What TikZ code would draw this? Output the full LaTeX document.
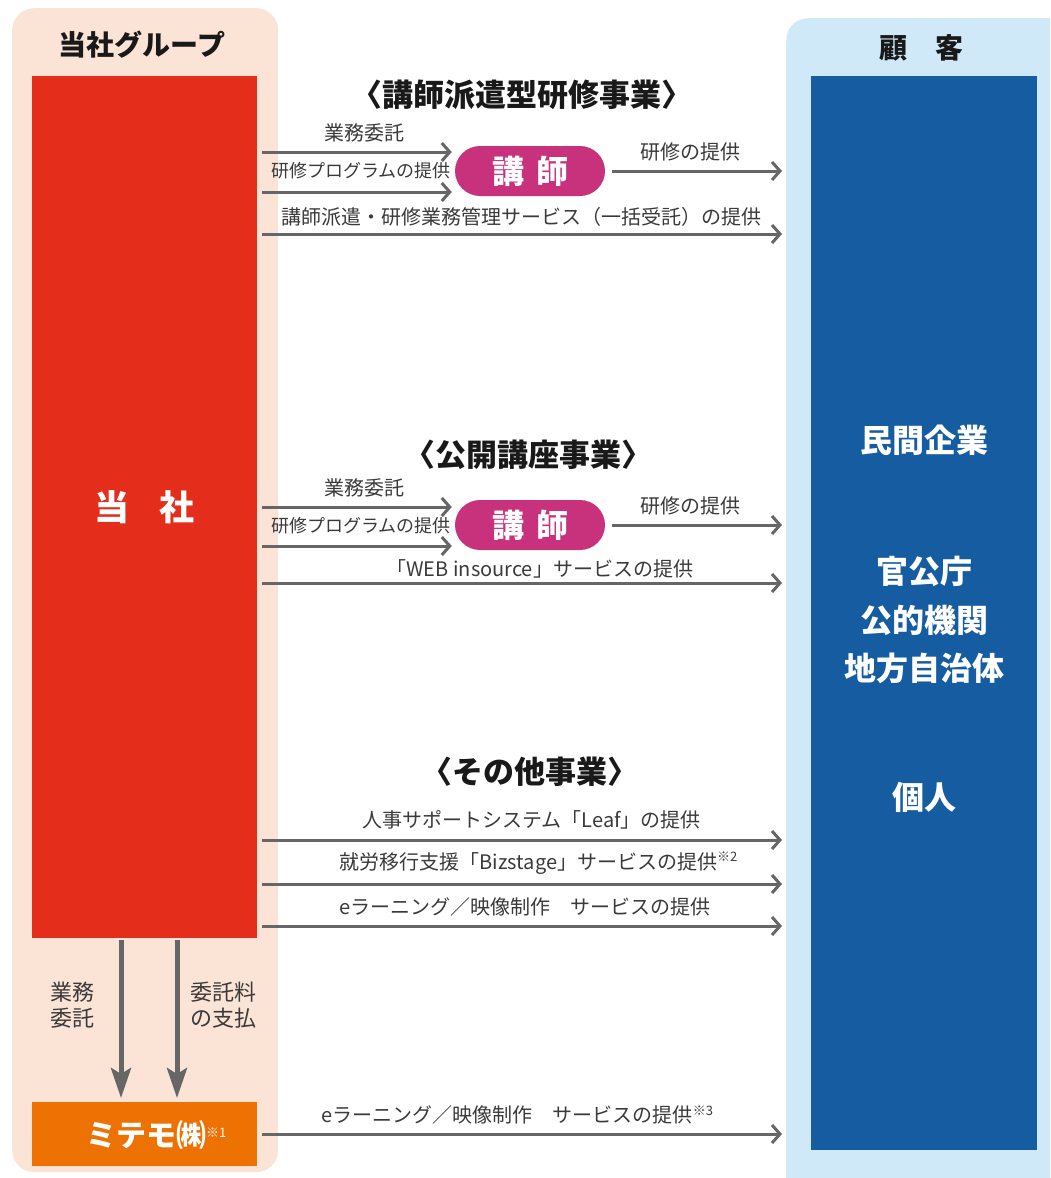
\documentclass[tikz,border=0pt]{standalone}
\usepackage{fontspec}
\newfontfamily\jp{Noto Sans CJK JP}
\usetikzlibrary{arrows.meta,positioning}
\definecolor{peach}{HTML}{FBE3D6}
\definecolor{skyblue}{HTML}{CFE9F8}
\definecolor{tred}{HTML}{E52D1C}
\definecolor{torange}{HTML}{EE7203}
\definecolor{tblue}{HTML}{165CA1}
\definecolor{tmagenta}{HTML}{C8327D}
\definecolor{arrgray}{HTML}{666666}
\definecolor{lblgray}{HTML}{3A3A3A}
\newcommand{\noteno}[1]{\textsuperscript{\jp\mdseries\fontsize{13}{13}\selectfont #1}}
\begin{document}
\begin{tikzpicture}[x=1pt,y=-1pt,
  bg/.style = {rounded corners=22pt, inner sep=0pt, anchor=north west},
  block/.style = {inner sep=0pt, anchor=north west},
  pill/.style = {fill=tmagenta, rounded corners=25pt, minimum width=150pt, minimum height=50pt, text=white, font=\jp\bfseries\fontsize{32}{32}\selectfont},
  head/.style = {font=\jp\bfseries\fontsize{28}{28}\selectfont, text=black!90},
  sect/.style = {font=\jp\bfseries\fontsize{31}{31}\selectfont, text=black!90},
  ctxt/.style = {font=\jp\bfseries\fontsize{32}{32}\selectfont, text=white},
  lbl/.style = {font=\jp\fontsize{20}{20}\selectfont, text=lblgray, inner sep=0pt, above=8pt},
  dlbl/.style = {font=\jp\fontsize{22}{26}\selectfont, text=lblgray, inner sep=0pt, align=center},
  arr/.style = {draw=arrgray, line width=3pt, -{Straight Barb[length=8pt,width=18pt]}},
  darr/.style = {draw=arrgray, line width=5pt, -{Stealth[length=30pt,width=20pt,inset=6pt]}}]
\useasboundingbox (0,0) rectangle (1050,1178);
\clip (0,0) rectangle (1050,1178);

% backgrounds
\node[bg, fill=peach, minimum width=266pt, minimum height=1164pt] (grp) at (12,8) {};
\node[bg, fill=skyblue, minimum width=300pt, minimum height=1200pt] (cust) at (786,18) {};
\node[head] (grpttl) at (142,45) {当社グループ};
\node[head] (custttl) at (921,48) {顧\hspace{28pt}客};

% boxes
\node[block, fill=tred, minimum width=225pt, minimum height=862pt] (tosha) at (32,76) {};
\node[ctxt, font=\jp\bfseries\fontsize{35}{35}\selectfont] (toshalbl) at (tosha.center) {当\hspace{30pt}社};
\node[block, fill=torange, minimum width=225pt, minimum height=64pt] (mitemo) at (32,1102) {};
\node[ctxt, font=\jp\bfseries\fontsize{30}{30}\selectfont, anchor=west, inner sep=0pt] (mitemolbl) at (86,1135) {ミテモ㈱\noteno{※1}};
\node[block, fill=tblue, minimum width=226pt, minimum height=1074pt] (kokyaku) at (811,76) {};
\node[ctxt] (c1) at (924,440) {民間企業};
\node[ctxt] (c2) at (924,571) {官公庁};
\node[ctxt] (c3) at (924,620) {公的機関};
\node[ctxt] (c4) at (924,668) {地方自治体};
\node[ctxt] (c5) at (924,797) {個人};

% 講師派遣型研修事業
\node[sect] (s1) at (522,95) {〈講師派遣型研修事業〉};
\node[pill] (kou1) at (530,171) {講\hspace{12pt}師};
\draw[arr, shorten <=5pt, shorten >=3pt] (tosha.east |- 0,152) -- node[lbl, xshift=8pt] {業務委託} (kou1.west |- 0,152);
\draw[arr, shorten <=5pt, shorten >=3pt] (tosha.east |- 0,192) -- node[lbl, font=\jp\fontsize{18}{18}\selectfont, xshift=5pt, above=11pt] {研修プログラムの提供} (kou1.west |- 0,192);
\draw[arr, shorten <=7pt, shorten >=4pt] (kou1.east) -- node[lbl, xshift=-5pt] {研修の提供} (cust.west |- kou1.east);
\draw[arr, shorten <=5pt, shorten >=4pt] (tosha.east |- 0,234) -- node[lbl, above=6pt] {講師派遣・研修業務管理サービス（一括受託）の提供} (cust.west |- 0,234);

% 公開講座事業
\node[sect] (s2) at (528,455) {〈公開講座事業〉};
\node[pill] (kou2) at (530,525) {講\hspace{12pt}師};
\draw[arr, shorten <=5pt, shorten >=3pt] (tosha.east |- 0,507) -- node[lbl, xshift=8pt] {業務委託} (kou2.west |- 0,507);
\draw[arr, shorten <=5pt, shorten >=3pt] (tosha.east |- 0,546) -- node[lbl, font=\jp\fontsize{18}{18}\selectfont, xshift=5pt, above=10pt] {研修プログラムの提供} (kou2.west |- 0,546);
\draw[arr, shorten <=7pt, shorten >=4pt] (kou2.east) -- node[lbl, xshift=-5pt] {研修の提供} (cust.west |- kou2.east);
\draw[arr, shorten <=5pt, shorten >=4pt] (tosha.east |- 0,583) -- node[lbl, above=3pt, xshift=18pt] {「WEB insource」サービスの提供} (cust.west |- 0,583);

% その他事業
\node[sect] (s3) at (530,772) {〈その他事業〉};
\draw[arr, shorten <=5pt, shorten >=4pt] (tosha.east |- 0,840) -- node[lbl, xshift=10pt, above=9pt] {人事サポートシステム「Leaf」の提供} (cust.west |- 0,840);
\draw[arr, shorten <=5pt, shorten >=4pt] (tosha.east |- 0,884) -- node[lbl, xshift=17pt] {就労移行支援「Bizstage」サービスの提供\noteno{※2}} (cust.west |- 0,884);
\draw[arr, shorten <=5pt, shorten >=4pt] (tosha.east |- 0,926) -- node[lbl, xshift=3pt] {eラーニング／映像制作　サービスの提供} (cust.west |- 0,926);

% ミテモ
\draw[darr, shorten <=2pt, shorten >=4pt] (tosha.south -| 121,0) -- node[dlbl, pos=0.41, left=24pt] {業務\\委託} (mitemo.north -| 121,0);
\draw[darr, shorten <=2pt, shorten >=4pt] (tosha.south -| 177,0) -- node[dlbl, pos=0.41, right=11pt] {委託料\\の支払} (mitemo.north -| 177,0);
\draw[arr, shorten <=5pt, shorten >=4pt] (mitemo.east |- 0,1134) -- node[lbl, xshift=-4pt] {eラーニング／映像制作　サービスの提供\noteno{※3}} (cust.west |- 0,1134);
\end{tikzpicture}
\end{document}
